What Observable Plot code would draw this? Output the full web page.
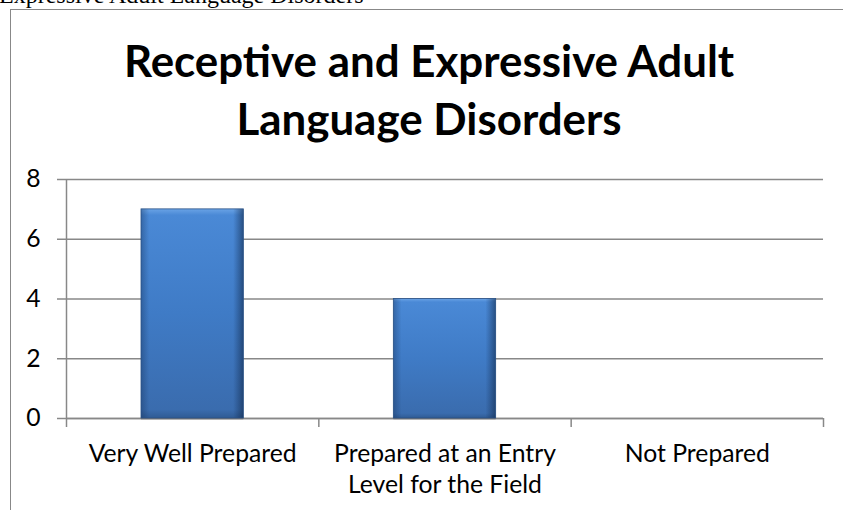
<!DOCTYPE html>
<html>
<head>
<meta charset="utf-8">
<script src="https://cdn.jsdelivr.net/npm/d3@7"></script>
<script src="https://cdn.jsdelivr.net/npm/@observablehq/plot@0.6"></script>
<style>
  html, body { margin: 0; padding: 0; background: #fff; }
  #page { position: relative; width: 843px; height: 510px; overflow: hidden; background: #fff; }
  #doc { position: absolute; left: -1px; top: -17px; font-family: "Liberation Serif", "Times New Roman", serif; font-size: 24px; line-height: 24px; color: #000; white-space: nowrap; }
  #box { position: absolute; left: 10px; top: 9px; width: 900px; height: 600px; border: 1.5px solid #888; box-sizing: border-box; }
  #title { position: absolute; left: 0; width: 858px; text-align: center; font-family: Lato, sans-serif; font-weight: 700; line-height: 58px; color: #000; white-space: nowrap; }
  #chart { position: absolute; left: 0; top: 0; }
</style>
</head>
<body>
<div id="page">
  <div id="doc">Expressive Adult Language Disorders</div>
  <div id="box"></div>
  <div id="title">Receptive and Expressive Adult<br>Language Disorders</div>
  <div id="chart"></div>
</div>
<script>
const categories = ["Very Well Prepared", "Prepared at an Entry Level for the Field", "Not Prepared"];
const values = [7, 4, 0];
const tickLabels = ["Very Well Prepared", "Prepared at an Entry\nLevel for the Field", "Not Prepared"];
const yTicks = [0, 2, 4, 6, 8];
const boundaries = [0, 1, 2, 3];

const data = categories.map((c, i) => ({category: c, value: values[i], index: i}));
const centers = categories.map((c, i) => i + 0.5);

// fit font sizes to the reference's text widths
const ctx = document.createElement("canvas").getContext("2d");
function fitSize(text, weight, target) {
  ctx.font = `${weight} 100px Lato`;
  return 100 * target / ctx.measureText(text).width;
}
const titleSize = fitSize("Receptive and Expressive Adult", 700, 612);
const tickSize = fitSize("Very Well Prepared", 400, 209);

const titleEl = document.getElementById("title");
titleEl.style.fontSize = titleSize + "px";
const baseline1 = 77;
titleEl.style.top = (baseline1 - ((58 - 1.2 * titleSize) / 2 + 0.987 * titleSize)) + "px";

const gray = "#888888";
const svg = Plot.plot({
  width: 843,
  height: 510,
  marginLeft: 66,
  marginRight: 20,
  marginTop: 179,
  marginBottom: 92,
  style: {background: "transparent", fontFamily: "Lato, sans-serif", overflow: "visible"},
  x: {type: "linear", domain: [0, categories.length], label: null},
  y: {domain: [0, 8], label: null},
  marks: [
    Plot.gridY(yTicks, {stroke: gray, strokeOpacity: 1, strokeWidth: 1.5}),
    Plot.ruleX([0], {y1: 0, y2: 8, stroke: gray, strokeWidth: 1.5}),
    Plot.ruleY([0], {stroke: gray, strokeWidth: 1.5}),
    Plot.axisY(yTicks, {tickSize: 9, tickPadding: 17, stroke: gray, strokeWidth: 1.5, fill: "#000", fontSize: tickSize, label: null}),
    Plot.axisX(boundaries, {tickSize: 9, tickFormat: () => "", stroke: gray, strokeWidth: 1.5, label: null}),
    Plot.axisX(centers, {tickSize: 0, tickPadding: 457 - 418 - 0.71 * tickSize, tickFormat: d => tickLabels[Math.floor(d)], fill: "#000", fontSize: tickSize, lineHeight: 31 / tickSize, label: null}),
    Plot.rectY(data.filter(d => d.value > 0), {x1: "index", x2: d => d.index + 1, y: "value", insetLeft: 75, insetRight: 75, dy: 2, fill: "#000", fillOpacity: 0.12}),
    Plot.rectY(data.filter(d => d.value > 0), {x1: "index", x2: d => d.index + 1, y: "value", insetLeft: 75, insetRight: 75, fill: "url(#barGrad)"}),
    Plot.rectY(data.filter(d => d.value > 0), {x1: "index", x2: d => d.index + 1, y: "value", insetLeft: 75, insetRight: 75, fill: "url(#sideGrad)", stroke: "#2b5285", strokeWidth: 0.8})
  ]
});

const defs = d3.select(svg).insert("defs", ":first-child");
const g1 = defs.append("linearGradient").attr("id", "barGrad").attr("x1", 0).attr("y1", 0).attr("x2", 0).attr("y2", 1);
g1.append("stop").attr("offset", "0%").attr("stop-color", "#6aa3e6");
g1.append("stop").attr("offset", "3%").attr("stop-color", "#4a89d6");
g1.append("stop").attr("offset", "50%").attr("stop-color", "#3f7bc6");
g1.append("stop").attr("offset", "96%").attr("stop-color", "#3a6cae");
g1.append("stop").attr("offset", "100%").attr("stop-color", "#2f5b94");
const g2 = defs.append("linearGradient").attr("id", "sideGrad").attr("x1", 0).attr("y1", 0).attr("x2", 1).attr("y2", 0);
g2.append("stop").attr("offset", "0%").attr("stop-color", "#102a50").attr("stop-opacity", 0.35);
g2.append("stop").attr("offset", "8%").attr("stop-color", "#102a50").attr("stop-opacity", 0);
g2.append("stop").attr("offset", "90%").attr("stop-color", "#102a50").attr("stop-opacity", 0);
g2.append("stop").attr("offset", "100%").attr("stop-color", "#0d2240").attr("stop-opacity", 0.55);

document.getElementById("chart").appendChild(svg);
</script>
</body>
</html>
